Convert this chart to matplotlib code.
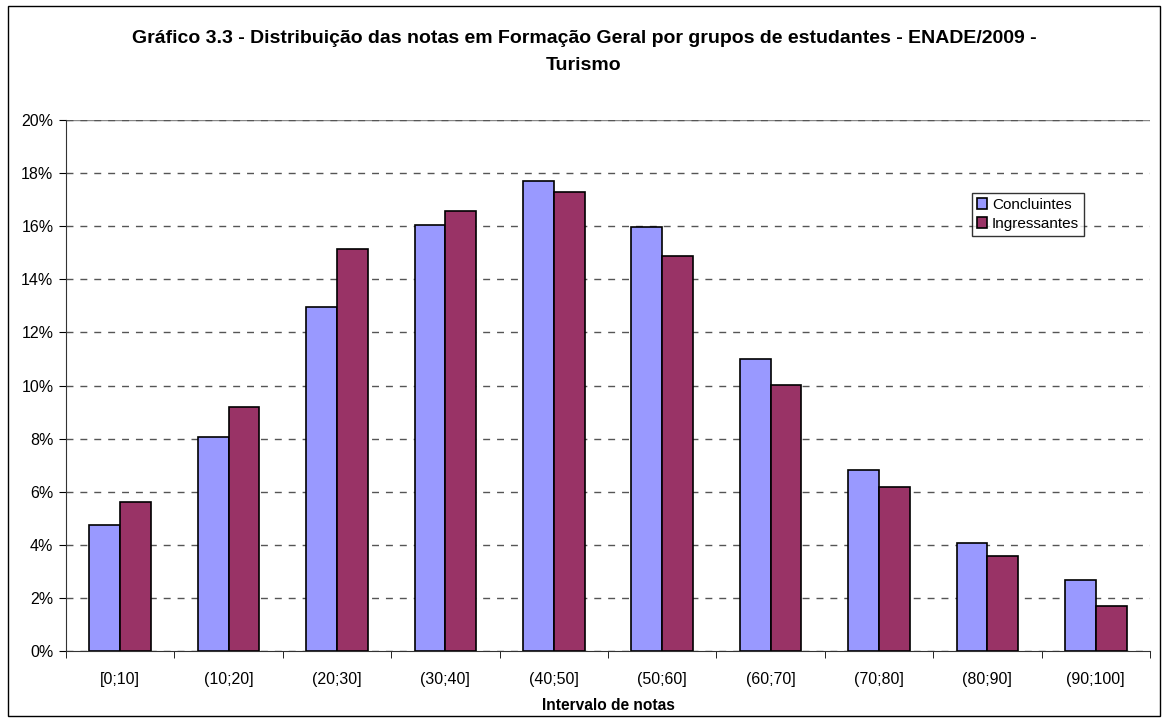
import matplotlib
matplotlib.use('Agg')
import matplotlib.pyplot as plt
import numpy as np
from matplotlib.patches import Rectangle
from matplotlib.ticker import FuncFormatter, MultipleLocator

plt.rcParams['font.family'] = ['Liberation Sans', 'DejaVu Sans']

categories = ['[0;10]', '(10;20]', '(20;30]', '(30;40]', '(40;50]',
              '(50;60]', '(60;70]', '(70;80]', '(80;90]', '(90;100]']
concluintes = [4.75, 8.06, 12.97, 16.05, 17.71, 15.97, 11.0, 6.82, 4.07, 2.67]
ingressantes = [5.6, 9.19, 15.14, 16.58, 17.3, 14.88, 10.02, 6.18, 3.58, 1.69]

title = ('Gráfico 3.3 - Distribuição das notas em Formação Geral por grupos de estudantes - ENADE/2009 -\n'
         'Turismo')

fig = plt.figure(figsize=(11.68, 7.22), dpi=100)
ax = fig.add_axes([66 / 1168, 1 - 651 / 722, 1084 / 1168, 531 / 722])

# outer frame
fig.patches.append(Rectangle((8 / 1168, 6 / 722), 1152 / 1168, 710 / 722,
                             transform=fig.transFigure, fill=False,
                             edgecolor='black', linewidth=1))

x = np.arange(len(categories))
w = 0.285
ax.bar(x - w / 2, concluintes, w, color='#9999ff', edgecolor='black',
       linewidth=1.2, label='Concluintes', zorder=3)
ax.bar(x + w / 2, ingressantes, w, color='#993366', edgecolor='black',
       linewidth=1.2, label='Ingressantes', zorder=3)

ax.set_xlim(-0.5, len(categories) - 0.5)
ax.set_ylim(0, 20)
ax.yaxis.set_major_locator(MultipleLocator(2))
ax.yaxis.set_major_formatter(FuncFormatter(lambda v, p: f'{v:.0f}%'))
ax.grid(axis='y', color='#555555', linestyle=(0, (5, 5)), linewidth=1, zorder=0)
# top line at 20% is solid in the original
ax.axhline(20, color='#888888', linewidth=1, zorder=1)

ax.set_xticks(x)
ax.set_xticklabels(categories, fontsize=11.5)
ax.set_xticks(np.arange(len(categories) + 1) - 0.5, minor=True)
ax.tick_params(axis='x', which='major', length=0, pad=15)
ax.tick_params(axis='x', which='minor', length=5, direction='out')
ax.tick_params(axis='y', length=5, labelsize=11.5, pad=4)

for s in ['top', 'right']:
    ax.spines[s].set_visible(False)
ax.spines['left'].set_color('#333333')
ax.spines['bottom'].set_color('#333333')

ax.set_xlabel('Intervalo de notas', fontsize=11.2, fontweight='bold', labelpad=8)

fig.text(0.5, 1 - 52 / 722, title, ha='center', va='center', fontsize=14,
         fontweight='bold', linespacing=1.75)

leg = ax.legend(loc='upper left', bbox_to_anchor=((972 - 66) / 1084, (651 - 193) / 531),
                fontsize=11, frameon=True, fancybox=False, edgecolor='black',
                borderpad=0.3, handlelength=0.7, handleheight=0.7,
                handletextpad=0.3, labelspacing=0.35, borderaxespad=0)
leg.get_frame().set_linewidth(1)

fig.savefig('out.png', dpi=100)
